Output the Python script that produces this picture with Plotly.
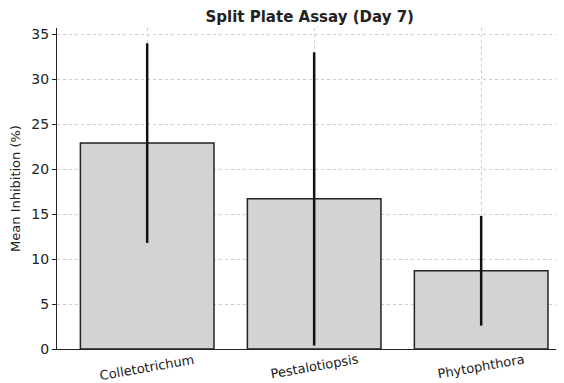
import plotly.graph_objects as go

categories = ["Colletotrichum", "Pestalotiopsis", "Phytophthora"]
mean_inhibition = [22.9, 16.7, 8.7]
std_error = [11.1, 16.3, 6.1]
y_ticks = [0, 5, 10, 15, 20, 25, 30, 35]

xpos = list(range(len(categories)))

fig = go.Figure()
fig.add_trace(go.Bar(
    x=xpos,
    y=mean_inhibition,
    width=0.8,
    marker=dict(color="#d3d3d3", line=dict(color="#222222", width=1.5)),
    error_y=dict(type="data", array=std_error, visible=True,
                 color="#111111", thickness=2.5, width=0),
))

font = "DejaVu Sans, sans-serif"
for xi, name in zip(xpos, categories):
    fig.add_annotation(x=xi, y=0, xref="x", yref="paper", text=name,
                       showarrow=False, textangle=-10, yanchor="top",
                       xanchor="center", yshift=0,
                       font=dict(family=font, size=13, color="#222222"))

fig.update_layout(
    width=564, height=383,
    margin=dict(l=49, r=8, t=20, b=42),
    paper_bgcolor="white", plot_bgcolor="white",
    showlegend=False,
    title=dict(text="<b>Split Plate Assay (Day 7)</b>", x=0.535, xanchor="center",
               y=1 - 9/383, yanchor="middle",
               font=dict(family=font, size=15, color="#222222")),
    font=dict(family=font, color="#222222"),
)
fig.update_xaxes(
    range=[-0.54, 2.496], automargin=False,
    tickmode="array", tickvals=xpos, ticktext=[""] * len(xpos),
    showline=True, linecolor="#222222", linewidth=1.2,
    ticks="",
    showgrid=True, gridcolor="#cccccc", griddash="dot", gridwidth=1,
    zeroline=False,
)
fig.update_yaxes(
    range=[0, 35.7], automargin=False,
    tickmode="array", tickvals=y_ticks,
    tickfont=dict(size=14),
    title=dict(text="Mean Inhibition (%)", font=dict(size=13), standoff=8),
    showline=True, linecolor="#222222", linewidth=1.2,
    ticks="outside", ticklen=4, tickcolor="#222222",
    showgrid=True, gridcolor="#cccccc", griddash="dot", gridwidth=1,
    zeroline=False,
)

fig.write_html("out.html")
